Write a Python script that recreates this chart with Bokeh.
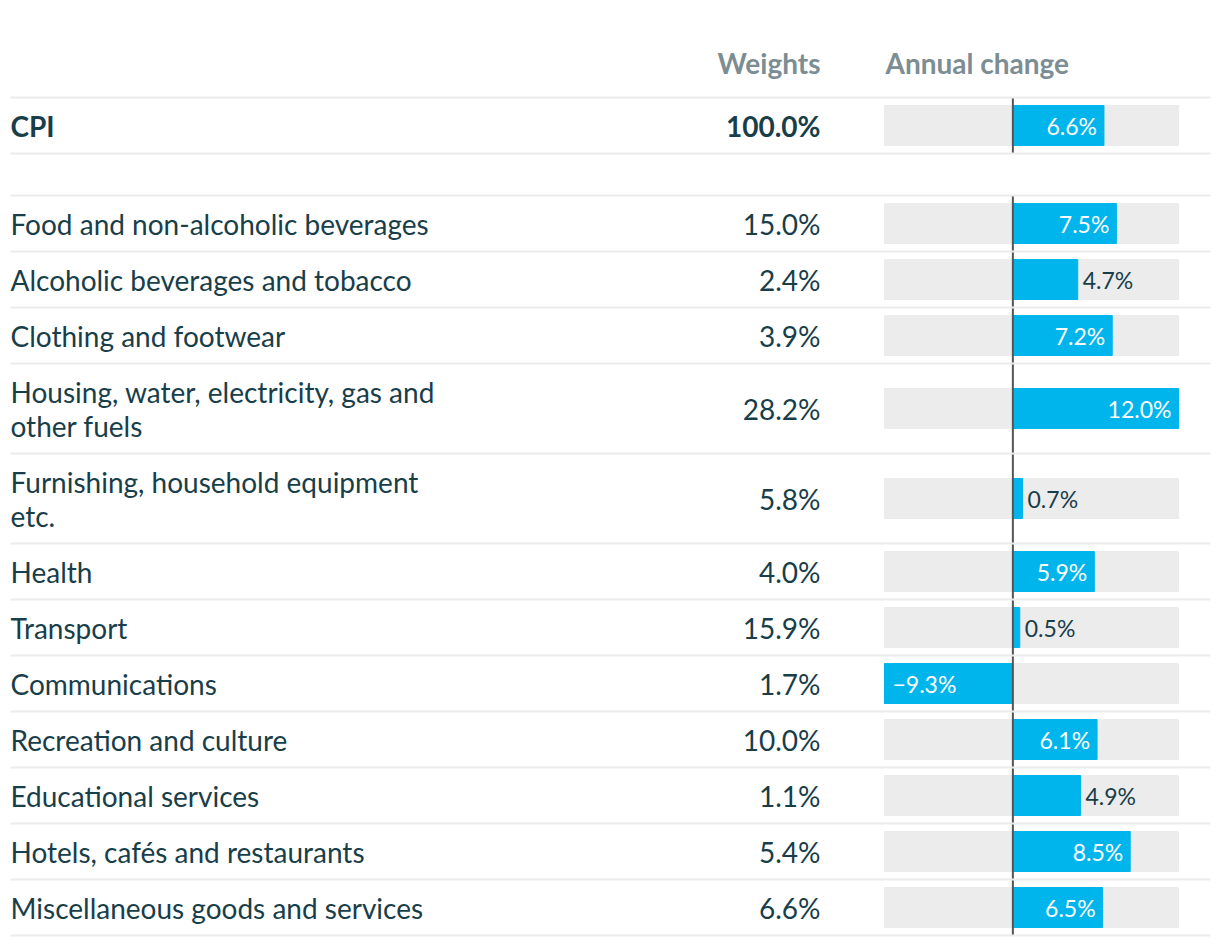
from bokeh.plotting import figure
from bokeh.models import Range1d
from bokeh.core.properties import value
from bokeh.embed import file_html
from bokeh.resources import INLINE

# ---- data ----
categories = [
    "CPI",
    "Food and non-alcoholic beverages",
    "Alcoholic beverages and tobacco",
    "Clothing and footwear",
    "Housing, water, electricity, gas and\nother fuels",
    "Furnishing, household equipment\netc.",
    "Health",
    "Transport",
    "Communications",
    "Recreation and culture",
    "Educational services",
    "Hotels, cafés and restaurants",
    "Miscellaneous goods and services",
]
weights = [100.0, 15.0, 2.4, 3.9, 28.2, 5.8, 4.0, 15.9, 1.7, 10.0, 1.1, 5.4, 6.6]
changes = [6.6, 7.5, 4.7, 7.2, 12.0, 0.7, 5.9, 0.5, -9.3, 6.1, 4.9, 8.5, 6.5]
headers = ["Weights", "Annual change"]

# ---- layout ----
W, H = 1216, 940
FONT = value("Lato")
TXT = "#183e4a"
HDR = "#7c8d94"
BAR = "#00b5ec"
BG = "#ececec"
SEP = "#ebebeb"
MAIN_SIZE = "28px"
VAL_SIZE = "23px"

panel_left, panel_right = 884, 1178
vmin, vmax = min(changes), max(changes)
scale = (panel_right - panel_left) / (vmax - vmin)
pct_start = vmin - panel_left / scale
pct_end = vmax + (W - panel_right) / scale

p = figure(width=W, height=H, x_range=Range1d(0, W), y_range=Range1d(H, 0),
           output_backend="svg", toolbar_location=None, min_border=0)
p.extra_x_ranges = {"pct": Range1d(pct_start, pct_end)}
p.xaxis.visible = False
p.yaxis.visible = False
p.grid.visible = False
p.outline_line_color = None
p.background_fill_color = "white"
p.border_fill_color = "white"

# row positions
header_y = 62
first_top = 97
gap = 42
row_h = [90 if "\n" in c else 56 for c in categories]

tops = []
y = first_top
for i, h in enumerate(row_h):
    tops.append(y)
    y += h
    if i == 0:
        y += gap
centers = [t + h / 2 for t, h in zip(tops, row_h)]
seps = sorted(set(tops + [t + h for t, h in zip(tops, row_h)]))

# backgrounds
p.hbar(y=centers, left=vmin, right=vmax, height=40, color=BG, x_range_name="pct")
# bars
p.hbar(y=centers, left=0, right=changes, height=40, color=BAR, x_range_name="pct")

# zero line
p.segment(x0=[0, 0], y0=[tops[0], tops[1]], x1=[0, 0],
          y1=[tops[0] + row_h[0], tops[-1] + row_h[-1]],
          line_color="#555555", line_width=2, x_range_name="pct")

# separators
p.segment(x0=[10] * len(seps), y0=seps, x1=[1210] * len(seps), y1=seps,
          line_color=SEP, line_width=2)

# headers
p.text(x=[820], y=[header_y], text=[headers[0]], text_font=FONT, text_font_style="bold",
       text_font_size=MAIN_SIZE, text_color=HDR, text_align="right", text_baseline="middle")
p.text(x=[885], y=[header_y], text=[headers[1]], text_font=FONT, text_font_style="bold",
       text_font_size=MAIN_SIZE, text_color=HDR, text_align="left", text_baseline="middle")

# category labels and weights
for i, (c, yc) in enumerate(zip(categories, centers)):
    style = "bold" if i == 0 else "normal"
    p.text(x=[10], y=[yc], text=[c], text_font=FONT, text_font_style=style,
           text_font_size=MAIN_SIZE, text_color=TXT, text_align="left",
           text_baseline="middle", text_line_height=1.0)
    p.text(x=[820], y=[yc], text=[f"{weights[i]:.1f}%"], text_font=FONT,
           text_font_style=style, text_font_size=MAIN_SIZE, text_color=TXT,
           text_align="right", text_baseline="middle")

# value labels
for ch, yc in zip(changes, centers):
    lab = f"{ch:.1f}%".replace("-", "\u2212")
    if ch >= 5.5:
        p.text(x=[ch], y=[yc], text=[lab], x_offset=-7, text_font=FONT, text_font_size=VAL_SIZE,
               text_color="white", text_align="right", text_baseline="middle", x_range_name="pct")
    elif ch <= -5.5:
        p.text(x=[ch], y=[yc], text=[lab], x_offset=8, text_font=FONT, text_font_size=VAL_SIZE,
               text_color="white", text_align="left", text_baseline="middle", x_range_name="pct")
    else:
        p.text(x=[ch], y=[yc], text=[lab], x_offset=5, text_font=FONT, text_font_size=VAL_SIZE,
               text_color=TXT, text_align="left", text_baseline="middle", x_range_name="pct")

open("out.html", "w").write(file_html(p, INLINE))
